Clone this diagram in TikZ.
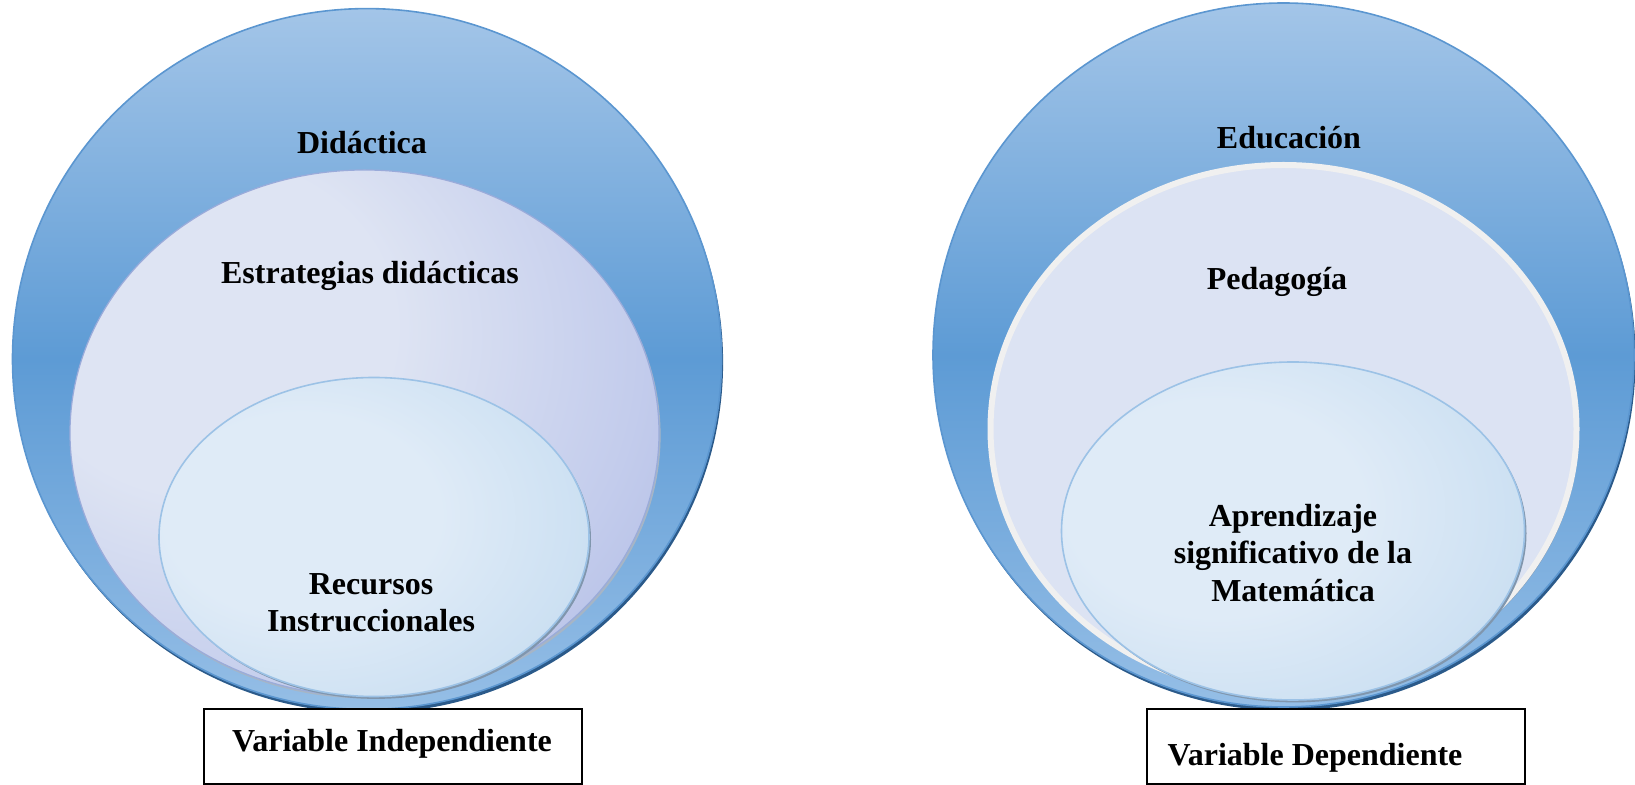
\documentclass[tikz,border=0pt]{standalone}
\usepackage{fontspec}
\setmainfont{Liberation Serif}
\usetikzlibrary{shapes.geometric,shadows}

\definecolor{outerTop}{HTML}{A3C5E8}
\definecolor{outerMid}{HTML}{5D9BD5}
\definecolor{outerBot}{HTML}{95BEE6}
\definecolor{outerLine}{HTML}{5B96D0}
\definecolor{outerShadow}{HTML}{2B5A8A}
\definecolor{midLight}{HTML}{DEE4F3}
\definecolor{midHalf}{HTML}{C3CCEC}
\definecolor{midDark}{HTML}{A3AFDF}
\definecolor{midLine}{HTML}{9AABDA}
\definecolor{midFlat}{HTML}{DCE3F3}
\definecolor{midRim}{HTML}{F0F0F0}
\definecolor{innLight}{HTML}{DFEBF7}
\definecolor{innHalf}{HTML}{CCE0F2}
\definecolor{innDark}{HTML}{ABC9E8}
\definecolor{innLine}{HTML}{9CC2E6}
\definecolor{rimShadow}{HTML}{8096AD}

% lavender fill, light towards the upper left
\pgfdeclareradialshading{lavender}{\pgfpoint{-16bp}{12bp}}{%
  color(0bp)=(midLight); color(16bp)=(midLight); color(34bp)=(midHalf); color(52bp)=(midDark); color(100bp)=(midDark)}
% pale blue fill of the innermost sets
\pgfdeclareradialshading{paleblue}{\pgfpoint{-10bp}{4bp}}{%
  color(0bp)=(innLight); color(16bp)=(innLight); color(32bp)=(innHalf); color(50bp)=(innDark); color(100bp)=(innDark)}

\tikzset{
  x=0.5pt, y=-0.5pt,
  setshape/.style={ellipse, inner sep=0pt, outer sep=0pt},
  outerset/.style={setshape, draw=outerLine, line width=0.8pt,
    top color=outerTop, bottom color=outerBot, middle color=outerMid,
    general shadow={fill=outerShadow, shadow xshift=0.8pt, shadow yshift=-1.8pt}},
  midsetL/.style={setshape, draw=midLine, line width=0.6pt, shading=lavender,
    general shadow={fill=rimShadow!70, shadow xshift=0.8pt, shadow yshift=-1.2pt}},
  midsetR/.style={setshape, draw=midRim, line width=3pt, fill=midFlat,
    general shadow={fill=rimShadow, shadow xshift=1.2pt, shadow yshift=-1.2pt}},
  innerset/.style={setshape, draw=innLine, line width=0.8pt, shading=paleblue,
    general shadow={fill=rimShadow, shadow xshift=1pt, shadow yshift=-1.2pt}},
  lbl/.style={font=\fontsize{16}{18.7}\selectfont\bfseries, align=center, inner sep=0pt},
  varbox/.style={draw=black, line width=0.8pt, fill=white, inner sep=0pt,
    minimum width=189pt, minimum height=37.5pt}
}

\begin{document}
\begin{tikzpicture}
\useasboundingbox (0,0) rectangle (1635,785);

% independent variable: three nested sets
\node[outerset, minimum width=354.5pt, minimum height=350.4pt] (didOuter) at (367,359) {};
\node[midsetL, minimum width=294.5pt, minimum height=263pt] (estMid) at (364.5,433) {};
\node[innerset, minimum width=215pt, minimum height=159.5pt] (recInner) at (374,537) {};

\node[lbl] (tDid) at (362,143) {Didáctica};
\node[lbl] (tEst) at (370,276) {Estrategias didácticas};
\node[lbl] (tRec) at (371,603) {Recursos\\Instruccionales};

\node[varbox] (boxInd) at (393,746.5) {};
\node[lbl] (tInd) at (392,743.5) {Variable Independiente};

% dependent variable: three nested sets
\node[outerset, minimum width=350.5pt, minimum height=352pt] (eduOuter) at (1283.5,355) {};
\node[midsetR, minimum width=293pt, minimum height=264pt] (pedMid) at (1283.5,429) {};
\node[innerset, minimum width=231.5pt, minimum height=169pt] (aprInner) at (1293,531) {};

\node[lbl] (tEdu) at (1289,138) {Educación};
\node[lbl] (tPed) at (1277,282) {Pedagogía};
\node[lbl] (tApr) at (1293,553) {Aprendizaje\\significativo de la\\Matemática};

\node[varbox] (boxDep) at (1336,746.5) {};
\node[lbl] (tDep) at (1315,758) {Variable Dependiente};
\end{tikzpicture}
\end{document}
